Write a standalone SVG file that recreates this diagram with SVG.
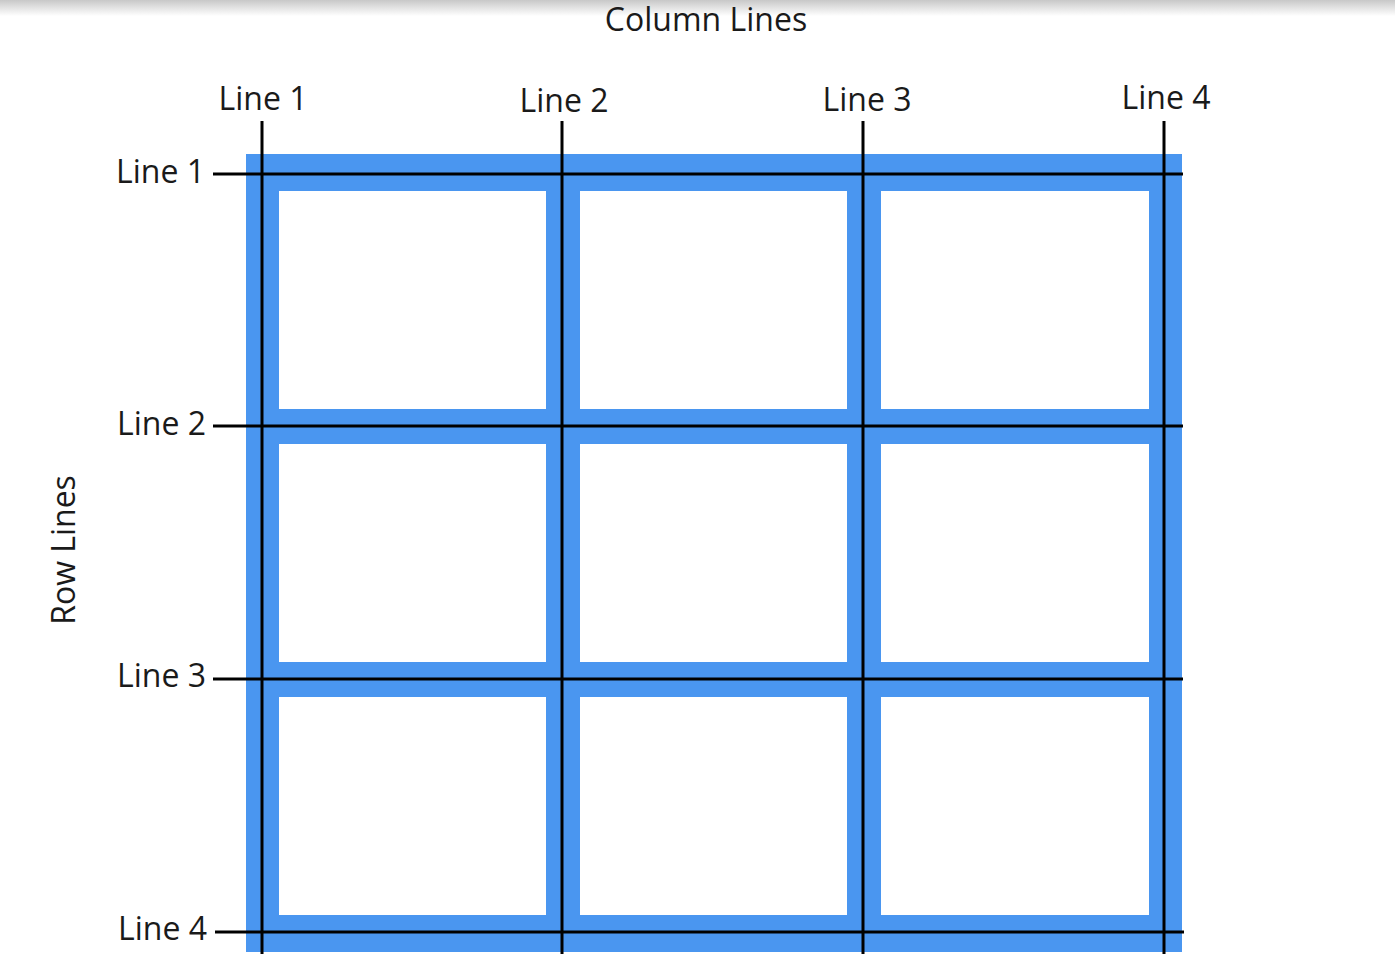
<svg xmlns="http://www.w3.org/2000/svg" width="1395" height="975" viewBox="0 0 1395 975">
  <defs>
    <linearGradient id="topShade" x1="0" y1="0" x2="0" y2="1">
      <stop offset="0" stop-color="#c8c8c8"/>
      <stop offset="1" stop-color="#ffffff"/>
    </linearGradient>
  </defs>
  <style>
    .lbl { font-family: "Open Sans", "Liberation Sans", sans-serif; font-size: 32px; fill: #1a1a1a; }
    .cell { fill: #ffffff; }
    .gl { stroke: #000000; stroke-width: 3; }
  </style>
  <rect x="0" y="0" width="1395" height="975" fill="#ffffff"/>
  <rect x="0" y="0" width="1395" height="16" fill="url(#topShade)"/>

  <text class="lbl" x="706" y="31" text-anchor="middle">Column Lines</text>
  <text class="lbl" transform="translate(75,550) rotate(-90)" text-anchor="middle">Row Lines</text>

  <g id="grid">
    <rect x="246" y="154" width="936" height="798" fill="#4a96f0"/>
    <rect class="cell" x="279" y="191" width="267" height="218"/>
    <rect class="cell" x="580" y="191" width="267" height="218"/>
    <rect class="cell" x="881" y="191" width="268" height="218"/>
    <rect class="cell" x="279" y="444" width="267" height="218"/>
    <rect class="cell" x="580" y="444" width="267" height="218"/>
    <rect class="cell" x="881" y="444" width="268" height="218"/>
    <rect class="cell" x="279" y="697" width="267" height="218"/>
    <rect class="cell" x="580" y="697" width="267" height="218"/>
    <rect class="cell" x="881" y="697" width="268" height="218"/>
  </g>

  <g id="connectors">
    <line class="gl" x1="262" y1="121" x2="262" y2="954"/>
    <line class="gl" x1="562" y1="121" x2="562" y2="954"/>
    <line class="gl" x1="863" y1="121" x2="863" y2="954"/>
    <line class="gl" x1="1164" y1="121" x2="1164" y2="954"/>
    <line class="gl" x1="213" y1="174" x2="1183" y2="174"/>
    <line class="gl" x1="213" y1="426" x2="1183" y2="426"/>
    <line class="gl" x1="213" y1="679" x2="1183" y2="679"/>
    <line class="gl" x1="215" y1="932" x2="1184" y2="932"/>
  </g>

  <g id="col-labels">
    <text class="lbl" x="263" y="110" text-anchor="middle">Line 1</text>
    <text class="lbl" x="564" y="112" text-anchor="middle">Line 2</text>
    <text class="lbl" x="867" y="111" text-anchor="middle">Line 3</text>
    <text class="lbl" x="1166" y="109" text-anchor="middle">Line 4</text>
  </g>
  <g id="row-labels">
    <text class="lbl" x="205" y="183" text-anchor="end">Line 1</text>
    <text class="lbl" x="206" y="435" text-anchor="end">Line 2</text>
    <text class="lbl" x="206" y="687" text-anchor="end">Line 3</text>
    <text class="lbl" x="207" y="940" text-anchor="end">Line 4</text>
  </g>
</svg>
